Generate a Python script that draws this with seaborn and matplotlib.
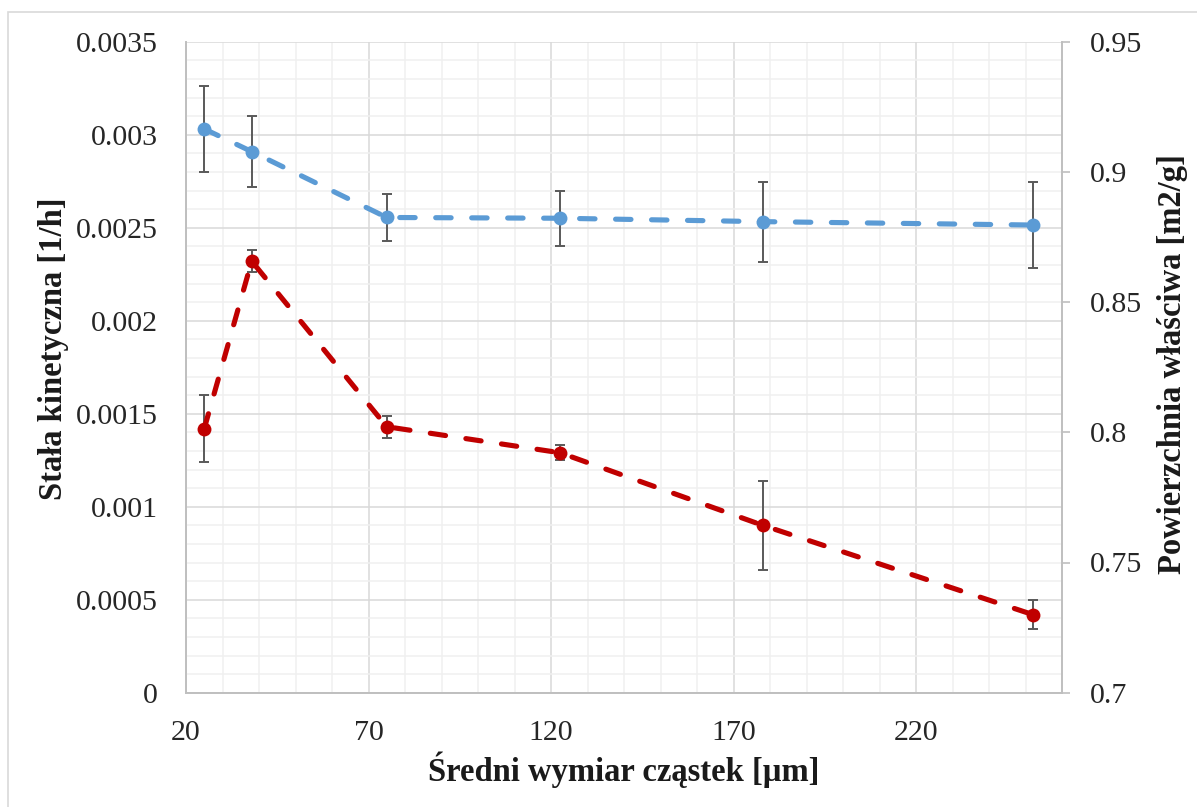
import matplotlib
matplotlib.use("Agg")
import matplotlib.pyplot as plt
import seaborn as sns
import pandas as pd
from matplotlib.ticker import MultipleLocator, FixedLocator
from matplotlib.patches import Rectangle

# ---- data ----
sizes = [25, 38, 75, 122.5, 178, 252]
kinetic = [0.00142, 0.00232, 0.00143, 0.00129, 0.00090, 0.00042]
kinetic_err = [0.00018, 0.00006, 0.00006, 0.00004, 0.00024, 0.00008]
surface = [0.9165, 0.9078, 0.8825, 0.8822, 0.8809, 0.8796]
surface_err = [0.0166, 0.0135, 0.0089, 0.0105, 0.0154, 0.0165]

x_ticks = [20, 70, 120, 170, 220]
left_ticks = [0, 0.0005, 0.001, 0.0015, 0.002, 0.0025, 0.003, 0.0035]
left_labels = ["0", "0.0005", "0.001", "0.0015", "0.002", "0.0025", "0.003", "0.0035"]
right_ticks = [0.7, 0.75, 0.8, 0.85, 0.9, 0.95]
right_labels = ["0.7", "0.75", "0.8", "0.85", "0.9", "0.95"]

xlabel = "Średni wymiar cząstek [µm]"
ylabel_left = "Stała kinetyczna [1/h]"
ylabel_right = "Powierzchnia właściwa [m2/g]"

df = pd.DataFrame({"size": sizes, "k": kinetic, "k_err": kinetic_err,
                   "s": surface, "s_err": surface_err})

sns.set_theme(style="white")
plt.rcParams["font.family"] = ["Liberation Serif", "DejaVu Serif"]

W, H = 1197, 807
fig = plt.figure(figsize=(W / 100, H / 100), dpi=100)
ax = fig.add_axes([186 / W, 1 - 692.7 / H, (1062 - 186) / W, (692.7 - 41.7) / H])
ax2 = ax.twinx()

red = "#C00000"
blue = "#5B9BD5"
errc = "#595959"
dash = (0, (3.0, 4.0))

# error bars (behind)
ax.errorbar(df["size"], df["k"], yerr=df["k_err"], fmt="none", ecolor=errc,
            elinewidth=1.4, capsize=3.8, capthick=1.4, zorder=2)
ax2.errorbar(df["size"], df["s"], yerr=df["s_err"], fmt="none", ecolor=errc,
             elinewidth=1.4, capsize=3.8, capthick=1.4, zorder=2)

sns.lineplot(data=df, x="size", y="k", ax=ax, color=red, marker="o",
             markersize=10, markeredgewidth=0, linewidth=3.7,
             linestyle=dash, dash_capstyle="round", zorder=3)
sns.lineplot(data=df, x="size", y="s", ax=ax2, color=blue, marker="o",
             markersize=10, markeredgewidth=0, linewidth=3.7,
             linestyle=dash, dash_capstyle="round", zorder=3)

ax.set_xlim(20, 260)
ax.set_ylim(0, 0.0035)
ax2.set_ylim(0.7, 0.95)

ax.xaxis.set_major_locator(FixedLocator(x_ticks))
ax.xaxis.set_minor_locator(MultipleLocator(10))
ax.yaxis.set_major_locator(FixedLocator(left_ticks))
ax.yaxis.set_minor_locator(MultipleLocator(0.0001))
ax.set_yticklabels(left_labels)
ax.set_xticklabels([str(t) for t in x_ticks])
ax2.yaxis.set_major_locator(FixedLocator(right_ticks))
ax2.set_yticklabels(right_labels)

ax.grid(which="major", color="#D9D9D9", linewidth=1.1)
ax.grid(which="minor", color="#F0F0F0", linewidth=1.1)
ax.set_axisbelow(True)
ax2.grid(False)

tick_fs = 21.5
ax.tick_params(axis="x", which="both", length=0, pad=20, labelsize=tick_fs, colors="#262626")
ax.tick_params(axis="y", which="both", length=0, pad=20, labelsize=tick_fs, colors="#262626")
ax2.tick_params(axis="y", which="major", length=6, width=1.2, color="#BFBFBF",
                pad=14, labelsize=tick_fs, labelcolor="#262626", direction="out")
ax2.tick_params(axis="y", which="minor", length=0)

for a in (ax, ax2):
    a.spines["top"].set_visible(False)
    for side in ("left", "bottom", "right"):
        a.spines[side].set_color("#BFBFBF")
        a.spines[side].set_linewidth(1.4)
ax.spines["right"].set_visible(False)
ax2.spines["left"].set_visible(False)
ax2.spines["bottom"].set_visible(False)

lab_fs = 23.5
ax.set_xlabel(xlabel, fontsize=lab_fs, fontweight="bold", color="#1a1a1a")
ax.set_ylabel(ylabel_left, fontsize=lab_fs, fontweight="bold", color="#1a1a1a")
ax2.set_ylabel(ylabel_right, fontsize=lab_fs, fontweight="bold", color="#1a1a1a")
ax.xaxis.set_label_coords(0.5, -0.09)
ax.yaxis.set_label_coords(-0.134, 0.528)
ax2.yaxis.set_label_coords(1.108, 0.505)

fig.patches.append(Rectangle((8 / W, -0.05), 1.2, (H - 12) / H + 0.05,
                             transform=fig.transFigure, fill=False,
                             edgecolor="#D9D9D9", linewidth=1.2))

fig.savefig("out.png", dpi=100, facecolor="white")
